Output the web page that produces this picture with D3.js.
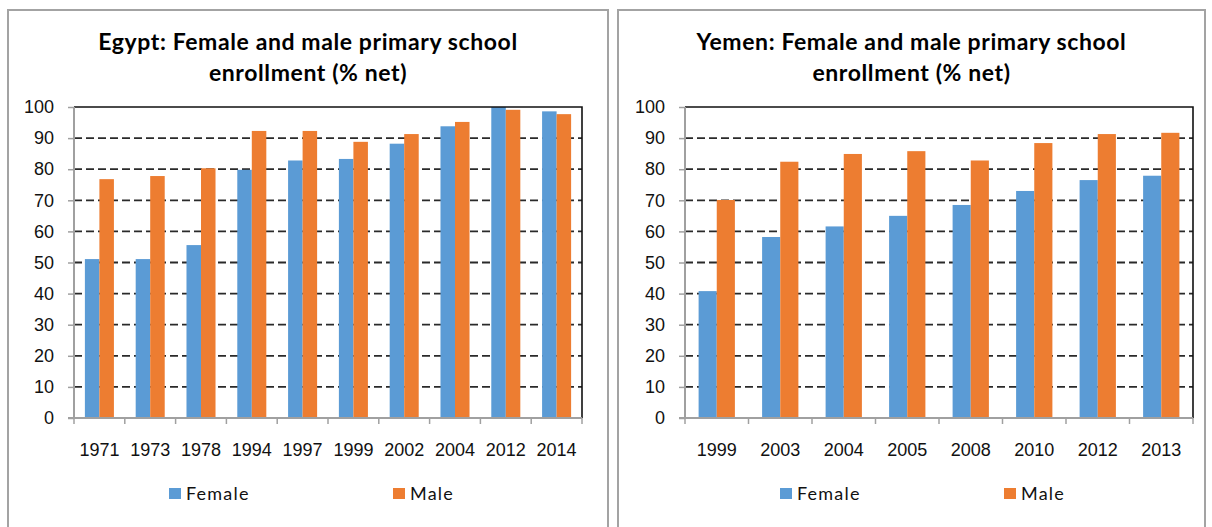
<!DOCTYPE html>
<meta charset="utf-8">
<style>
body {
    margin: 0;
    background: #fff;
    font-family: "Lato", "Open Sans", sans-serif;
}
.panel-border {
    fill: none;
    stroke: #a3a3a3;
    stroke-width: 2;
}
.title {
    font-weight: bold;
    font-size: 23px;
    letter-spacing: 0.6px;
    fill: #000;
}
.grid line {
    stroke: #2a2a2a;
    stroke-width: 1.8;
    stroke-dasharray: 8,4;
}
.tick-label {
    font-size: 18px;
    fill: #111;
}
.legend-label {
    font-size: 18px;
    fill: #111;
    letter-spacing: 1.2px;
}
</style>
<body>
<script src="https://d3js.org/d3.v7.min.js"></script>
<script>
var width = 1212,
    height = 527;

var seriesNames = ["Female", "Male"];
var colors = ["#5B9BD5", "#ED7D31"];
var yTicks = [0, 10, 20, 30, 40, 50, 60, 70, 80, 90, 100];

// Egypt
var egyptYears = ["1971", "1973", "1978", "1994", "1997", "1999", "2002", "2004", "2012", "2014"];
var egyptFemale = [51.1, 51.1, 55.6, 79.8, 82.8, 83.3, 88.2, 93.8, 100, 98.6];
var egyptMale = [76.8, 77.8, 80.3, 92.3, 92.3, 88.8, 91.3, 95.2, 99.1, 97.7];

// Yemen
var yemenYears = ["1999", "2003", "2004", "2005", "2008", "2010", "2012", "2013"];
var yemenFemale = [40.8, 58.2, 61.6, 65.0, 68.5, 73.0, 76.5, 77.9];
var yemenMale = [70.1, 82.4, 84.9, 85.8, 82.8, 88.4, 91.3, 91.7];

var svg = d3.select("body").append("svg")
    .attr("width", width)
    .attr("height", height);

function drawPanel(opts) {
    var g = svg.append("g");

    // panel frame (open at the bottom, as in the picture)
    g.append("path")
        .attr("class", "panel-border")
        .attr("d", "M" + opts.box[0] + "," + height + "V" + opts.box[1] +
             "H" + opts.box[2] + "V" + height);

    var cx = (opts.box[0] + opts.box[2]) / 2;
    g.selectAll(".title")
        .data(opts.title)
        .enter()
        .append("text")
        .attr("class", "title")
        .attr("x", cx)
        .attr("y", function(d, i) { return 50 + i * 31; })
        .attr("text-anchor", "middle")
        .text(function(d) { return d; });

    var x = d3.scaleBand()
        .domain(opts.years)
        .range([opts.plot[0], opts.plot[1]]);
    var inner = d3.scaleBand()
        .domain(seriesNames)
        .range([0, x.bandwidth()])
        .paddingInner(0)
        .paddingOuter(0.75);
    var y = d3.scaleLinear()
        .domain([0, 100])
        .range([opts.plot[3], opts.plot[2]]);

    // dashed gridlines
    g.append("g")
        .attr("class", "grid")
        .selectAll("line")
        .data(yTicks.filter(function(t) { return t > 0 && t < 100; }))
        .enter()
        .append("line")
        .attr("x1", opts.plot[0])
        .attr("x2", opts.plot[1])
        .attr("y1", function(d) { return y(d); })
        .attr("y2", function(d) { return y(d); });

    // bars
    var rows = opts.years.map(function(yr, i) {
        return [opts.female[i], opts.male[i]];
    });
    g.append("g")
        .selectAll("g")
        .data(rows)
        .enter()
        .append("g")
        .attr("transform", function(d, i) { return "translate(" + x(opts.years[i]) + ",0)"; })
        .selectAll("rect")
        .data(function(d) { return d; })
        .enter()
        .append("rect")
        .attr("x", function(d, j) { return inner(seriesNames[j]); })
        .attr("width", inner.bandwidth())
        .attr("y", function(d) { return y(d); })
        .attr("height", function(d) { return y(0) - y(d); })
        .attr("fill", function(d, j) { return colors[j]; });

    // top and right frame of the plot area
    g.append("path")
        .attr("d", "M" + opts.plot[0] + "," + y(100) + "H" + opts.plot[1] + "V" + y(0))
        .attr("fill", "none")
        .attr("stroke", "#111")
        .attr("stroke-width", 1.6);

    // y axis
    var yAxis = g.append("g")
        .attr("transform", "translate(" + opts.plot[0] + ",0)")
        .call(d3.axisLeft(y).tickValues(yTicks).tickSize(6).tickPadding(14));
    yAxis.select(".domain").attr("stroke", "#a0a0a0").attr("stroke-width", 2)
        .attr("d", "M0," + y(0) + "V" + y(100));
    yAxis.selectAll(".tick line").attr("stroke", "#a0a0a0").attr("stroke-width", 1.5);
    yAxis.selectAll(".tick text").attr("class", "tick-label").attr("font-family", null)
        .attr("font-size", null).attr("fill", null);

    // x axis with ticks between categories
    var xAxis = g.append("g")
        .attr("transform", "translate(0," + y(0) + ")")
        .call(d3.axisBottom(x).tickSize(0).tickPadding(25));
    xAxis.select(".domain").attr("stroke", "#a0a0a0").attr("stroke-width", 2)
        .attr("d", "M" + (opts.plot[0] - 6) + ",0H" + opts.plot[1]);
    xAxis.selectAll(".tick text").attr("class", "tick-label").attr("font-family", null)
        .attr("font-size", null).attr("fill", null);
    xAxis.selectAll(".sep")
        .data(opts.years.concat(["end"]))
        .enter()
        .append("line")
        .attr("x1", function(d, i) { return opts.plot[0] + i * x.step(); })
        .attr("x2", function(d, i) { return opts.plot[0] + i * x.step(); })
        .attr("y1", 0)
        .attr("y2", 6)
        .attr("stroke", "#a0a0a0")
        .attr("stroke-width", 1.5);

    // legend
    var pc = (opts.plot[0] + opts.plot[1]) / 2;
    var legend = g.selectAll(".legend")
        .data(seriesNames)
        .enter()
        .append("g")
        .attr("transform", function(d, i) { return "translate(" + (pc + (i === 0 ? -159 : 65)) + ",488)"; });
    legend.append("rect")
        .attr("width", 12)
        .attr("height", 11)
        .attr("fill", function(d, i) { return colors[i]; });
    legend.append("text")
        .attr("class", "legend-label")
        .attr("x", 17)
        .attr("y", 11.5)
        .text(function(d) { return d; });
}

drawPanel({
    box: [8, 10, 608],
    plot: [74, 582, 107, 418],
    title: ["Egypt: Female and male primary school", "enrollment (% net)"],
    years: egyptYears,
    female: egyptFemale,
    male: egyptMale
});

drawPanel({
    box: [618, 10, 1205],
    plot: [685, 1193, 107, 418],
    title: ["Yemen: Female and male primary school", "enrollment (% net)"],
    years: yemenYears,
    female: yemenFemale,
    male: yemenMale
});
</script>
</body>
